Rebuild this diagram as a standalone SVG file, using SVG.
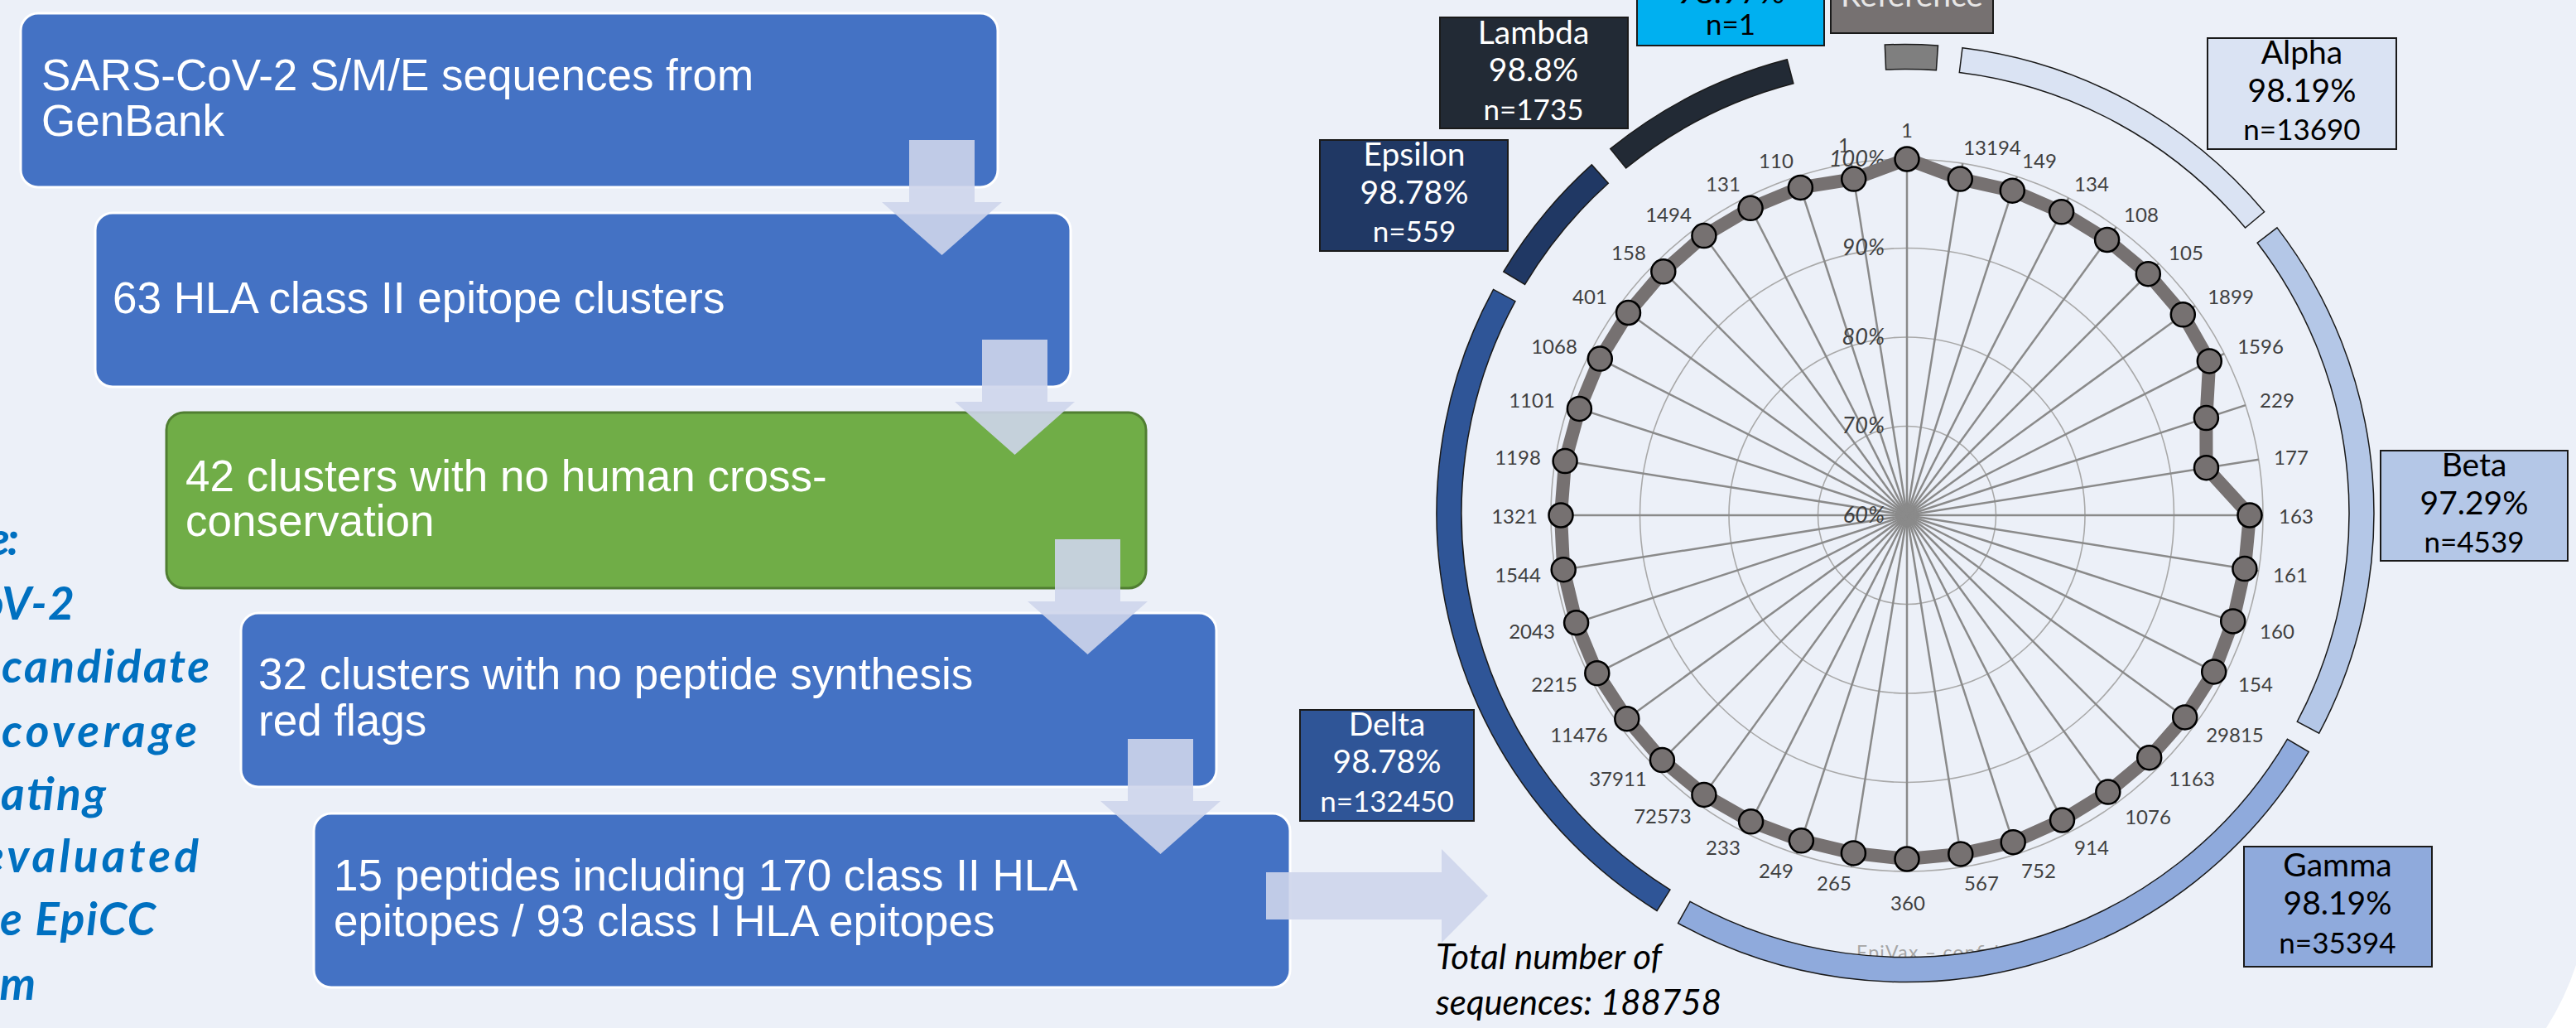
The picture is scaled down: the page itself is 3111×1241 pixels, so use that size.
<svg xmlns="http://www.w3.org/2000/svg" width="3111" height="1241" viewBox="0 0 3111 1241">
<style>
.bx{fill:#4472C4;stroke:#FFFFFF;stroke-width:3}
.gbx{fill:#70AD47;stroke:#507E32;stroke-width:3}
.bt{font-family:"Liberation Sans",Arial,sans-serif;font-size:53px;fill:#FFFFFF}
.arr{fill:#CED5EB;fill-opacity:0.9}
.side{font-family:Lato,"Open Sans",sans-serif;font-weight:bold;font-style:italic;font-size:55px;fill:#0070C0;text-anchor:end}
.spk{stroke:#8A8A8A;stroke-width:2.5}
.grd{fill:none;stroke:#A9A9A9;stroke-width:1.6}
.pct{font-family:Lato,"Open Sans",sans-serif;font-style:italic;font-size:27px;fill:#404040;text-anchor:end}
.cat{font-family:Lato,"Open Sans",sans-serif;font-size:24px;fill:#404040;text-anchor:middle}
.mk{fill:#767171;stroke:#000000;stroke-width:2.5}
.arc{stroke:#1A1A1A;stroke-width:1.5}
.vb{stroke:#1A1A1A;stroke-width:2}
.vn{font-family:Lato,"Open Sans",sans-serif;font-size:39px;text-anchor:middle}
.vs{font-family:Lato,"Open Sans",sans-serif;font-size:35px;text-anchor:middle}
.tot{font-family:Lato,"Open Sans",sans-serif;font-style:italic;font-size:42px;fill:#000000}
</style>
<rect x="0" y="0" width="3111" height="1241" fill="#ECF0F8"/>
<path d="M3111,1165 Q3098,1205 3075,1241 L3111,1241 Z" fill="#FFFFFF"/>

<g id="side-text">
<text class="side" x="23" y="670" textLength="38">e:</text>
<text class="side" x="90" y="748" textLength="114">oV-2</text>
<text class="side" x="253" y="824" textLength="251">candidate</text>
<text class="side" x="238" y="902" textLength="236">coverage</text>
<text class="side" x="128" y="978" textLength="127">ating</text>
<text class="side" x="240" y="1053" textLength="262">evaluated</text>
<text class="side" x="188" y="1129" textLength="188">e EpiCC</text>
<text class="side" x="43" y="1207" textLength="44">m</text>
</g>

<g id="box1">
<rect class="bx" x="25" y="16" width="1180" height="210" rx="21"/>
<text class="bt" x="50" y="109">SARS-CoV-2 S/M/E sequences from</text>
<text class="bt" x="50" y="164">GenBank</text>
</g>
<g id="box2">
<rect class="bx" x="115" y="257" width="1178" height="210" rx="21"/>
<text class="bt" x="136" y="378">63 HLA class II epitope clusters</text>
</g>
<g id="box3">
<rect class="gbx" x="201" y="498" width="1183" height="212" rx="21"/>
<text class="bt" x="224" y="593">42 clusters with no human cross-</text>
<text class="bt" x="224" y="647">conservation</text>
</g>
<g id="box4">
<rect class="bx" x="291" y="740" width="1178" height="210" rx="21"/>
<text class="bt" x="312" y="832">32 clusters with no peptide synthesis</text>
<text class="bt" x="312" y="888">red flags</text>
</g>
<g id="box5">
<rect class="bx" x="379" y="982" width="1179" height="210" rx="21"/>
<text class="bt" x="403" y="1075">15 peptides including 170 class II HLA</text>
<text class="bt" x="403" y="1130">epitopes / 93 class I HLA epitopes</text>
</g>

<g id="connectors">
<polygon class="arr" points="1098,169 1177,169 1177,244 1210,244 1137.5,308 1065,244 1098,244"/>
<polygon class="arr" points="1186,410 1265,410 1265,485 1298,485 1225.5,549 1153,485 1186,485"/>
<polygon class="arr" points="1274,651 1353,651 1353,726 1386,726 1313.5,790 1241,726 1274,726"/>
<polygon class="arr" points="1362,892 1441,892 1441,967 1474,967 1401.5,1031 1329,967 1362,967"/>
<polygon class="arr" points="1529,1053 1741,1053 1741,1025 1797,1081.5 1741,1138 1741,1110 1529,1110"/>
</g>

<g id="watermark">
<text x="2242" y="1158" font-family="Lato,'Open Sans',sans-serif" font-size="23" fill="#A6A6A6" textLength="234">EpiVax – confidential</text>
</g>

<g id="radar-grid">
<circle class="grd" cx="2303" cy="622" r="107.5"/>
<circle class="grd" cx="2303" cy="622" r="215"/>
<circle class="grd" cx="2303" cy="622" r="322.5"/>
<circle class="grd" cx="2303" cy="622" r="430"/>
<g transform="translate(2303,622)">
<line class="spk" x1="0" y1="0" x2="0" y2="-430"/>
<line class="spk" x1="0" y1="0" x2="0" y2="-430" transform="rotate(9)"/>
<line class="spk" x1="0" y1="0" x2="0" y2="-430" transform="rotate(18)"/>
<line class="spk" x1="0" y1="0" x2="0" y2="-430" transform="rotate(27)"/>
<line class="spk" x1="0" y1="0" x2="0" y2="-430" transform="rotate(36)"/>
<line class="spk" x1="0" y1="0" x2="0" y2="-430" transform="rotate(45)"/>
<line class="spk" x1="0" y1="0" x2="0" y2="-430" transform="rotate(54)"/>
<line class="spk" x1="0" y1="0" x2="0" y2="-430" transform="rotate(63)"/>
<line class="spk" x1="0" y1="0" x2="0" y2="-430" transform="rotate(72)"/>
<line class="spk" x1="0" y1="0" x2="0" y2="-430" transform="rotate(81)"/>
<line class="spk" x1="0" y1="0" x2="0" y2="-430" transform="rotate(90)"/>
<line class="spk" x1="0" y1="0" x2="0" y2="-430" transform="rotate(99)"/>
<line class="spk" x1="0" y1="0" x2="0" y2="-430" transform="rotate(108)"/>
<line class="spk" x1="0" y1="0" x2="0" y2="-430" transform="rotate(117)"/>
<line class="spk" x1="0" y1="0" x2="0" y2="-430" transform="rotate(126)"/>
<line class="spk" x1="0" y1="0" x2="0" y2="-430" transform="rotate(135)"/>
<line class="spk" x1="0" y1="0" x2="0" y2="-430" transform="rotate(144)"/>
<line class="spk" x1="0" y1="0" x2="0" y2="-430" transform="rotate(153)"/>
<line class="spk" x1="0" y1="0" x2="0" y2="-430" transform="rotate(162)"/>
<line class="spk" x1="0" y1="0" x2="0" y2="-430" transform="rotate(171)"/>
<line class="spk" x1="0" y1="0" x2="0" y2="-430" transform="rotate(180)"/>
<line class="spk" x1="0" y1="0" x2="0" y2="-430" transform="rotate(189)"/>
<line class="spk" x1="0" y1="0" x2="0" y2="-430" transform="rotate(198)"/>
<line class="spk" x1="0" y1="0" x2="0" y2="-430" transform="rotate(207)"/>
<line class="spk" x1="0" y1="0" x2="0" y2="-430" transform="rotate(216)"/>
<line class="spk" x1="0" y1="0" x2="0" y2="-430" transform="rotate(225)"/>
<line class="spk" x1="0" y1="0" x2="0" y2="-430" transform="rotate(234)"/>
<line class="spk" x1="0" y1="0" x2="0" y2="-430" transform="rotate(243)"/>
<line class="spk" x1="0" y1="0" x2="0" y2="-430" transform="rotate(252)"/>
<line class="spk" x1="0" y1="0" x2="0" y2="-430" transform="rotate(261)"/>
<line class="spk" x1="0" y1="0" x2="0" y2="-430" transform="rotate(270)"/>
<line class="spk" x1="0" y1="0" x2="0" y2="-430" transform="rotate(279)"/>
<line class="spk" x1="0" y1="0" x2="0" y2="-430" transform="rotate(288)"/>
<line class="spk" x1="0" y1="0" x2="0" y2="-430" transform="rotate(297)"/>
<line class="spk" x1="0" y1="0" x2="0" y2="-430" transform="rotate(306)"/>
<line class="spk" x1="0" y1="0" x2="0" y2="-430" transform="rotate(315)"/>
<line class="spk" x1="0" y1="0" x2="0" y2="-430" transform="rotate(324)"/>
<line class="spk" x1="0" y1="0" x2="0" y2="-430" transform="rotate(333)"/>
<line class="spk" x1="0" y1="0" x2="0" y2="-430" transform="rotate(342)"/>
<line class="spk" x1="0" y1="0" x2="0" y2="-430" transform="rotate(351)"/>
</g>
<text class="pct" x="2276" y="201">100%</text>
<text class="pct" x="2276" y="308">90%</text>
<text class="pct" x="2276" y="416">80%</text>
<text class="pct" x="2276" y="523">70%</text>
<text class="pct" x="2276" y="631">60%</text>
</g>

<g id="radar-labels">
<text class="cat" x="2303" y="166">1</text>
<text class="cat" x="2406" y="187">13194</text>
<text class="cat" x="2463" y="203">149</text>
<text class="cat" x="2526" y="231">134</text>
<text class="cat" x="2586" y="268">108</text>
<text class="cat" x="2640" y="314">105</text>
<text class="cat" x="2694" y="367">1899</text>
<text class="cat" x="2730" y="427">1596</text>
<text class="cat" x="2750" y="492">229</text>
<text class="cat" x="2767" y="561">177</text>
<text class="cat" x="2773" y="632">163</text>
<text class="cat" x="2766" y="703">161</text>
<text class="cat" x="2750" y="771">160</text>
<text class="cat" x="2724" y="835">154</text>
<text class="cat" x="2699" y="896">29815</text>
<text class="cat" x="2647" y="949">1163</text>
<text class="cat" x="2594" y="995">1076</text>
<text class="cat" x="2526" y="1032">914</text>
<text class="cat" x="2462" y="1060">752</text>
<text class="cat" x="2393" y="1075">567</text>
<text class="cat" x="2304" y="1099">360</text>
<text class="cat" x="2215" y="1075">265</text>
<text class="cat" x="2145" y="1060">249</text>
<text class="cat" x="2081" y="1032">233</text>
<text class="cat" x="2008" y="994">72573</text>
<text class="cat" x="1954" y="949">37911</text>
<text class="cat" x="1907" y="896">11476</text>
<text class="cat" x="1877" y="835">2215</text>
<text class="cat" x="1850" y="771">2043</text>
<text class="cat" x="1833" y="703">1544</text>
<text class="cat" x="1829" y="632">1321</text>
<text class="cat" x="1833" y="561">1198</text>
<text class="cat" x="1850" y="492">1101</text>
<text class="cat" x="1877" y="427">1068</text>
<text class="cat" x="1920" y="367">401</text>
<text class="cat" x="1967" y="314">158</text>
<text class="cat" x="2015" y="268">1494</text>
<text class="cat" x="2081" y="231">131</text>
<text class="cat" x="2145" y="203">110</text>
<text class="cat" x="2227" y="184">1</text>
</g>

<g id="radar-series">
<polygon fill="none" stroke="#767171" stroke-width="16" stroke-linejoin="round" points="2303,192 2367.3,216.1 2430.3,230.2 2489.6,255.8 2544.6,289.5 2594.3,330.7 2636.3,379.8 2668.3,435.9 2664.4,504.6 2664.5,564.7 2717,622 2710.9,686.6 2696.7,749.9 2673.7,810.9 2638.7,865.9 2595.7,914.7 2545.8,956.1 2490.5,990 2431.2,1016.7 2367.8,1030.9 2303,1037 2238.4,1029.9 2175.4,1014.8 2114.6,991.8 2057.9,959.4 2007.4,917.6 1964.8,867.7 1928.8,812.7 1903.6,751.8 1888.2,687.7 1885,622 1890.1,556.6 1907.4,493.4 1932.3,433.1 1966.5,377.5 2008.8,327.8 2057.9,284.6 2114.1,251.3 2174.4,226.4 2238.7,216.1"/>
<circle class="mk" cx="2303" cy="192" r="14.5"/>
<circle class="mk" cx="2367.3" cy="216.1" r="14.5"/>
<circle class="mk" cx="2430.3" cy="230.2" r="14.5"/>
<circle class="mk" cx="2489.6" cy="255.8" r="14.5"/>
<circle class="mk" cx="2544.6" cy="289.5" r="14.5"/>
<circle class="mk" cx="2594.3" cy="330.7" r="14.5"/>
<circle class="mk" cx="2636.3" cy="379.8" r="14.5"/>
<circle class="mk" cx="2668.3" cy="435.9" r="14.5"/>
<circle class="mk" cx="2664.4" cy="504.6" r="14.5"/>
<circle class="mk" cx="2664.5" cy="564.7" r="14.5"/>
<circle class="mk" cx="2717" cy="622" r="14.5"/>
<circle class="mk" cx="2710.9" cy="686.6" r="14.5"/>
<circle class="mk" cx="2696.7" cy="749.9" r="14.5"/>
<circle class="mk" cx="2673.7" cy="810.9" r="14.5"/>
<circle class="mk" cx="2638.7" cy="865.9" r="14.5"/>
<circle class="mk" cx="2595.7" cy="914.7" r="14.5"/>
<circle class="mk" cx="2545.8" cy="956.1" r="14.5"/>
<circle class="mk" cx="2490.5" cy="990" r="14.5"/>
<circle class="mk" cx="2431.2" cy="1016.7" r="14.5"/>
<circle class="mk" cx="2367.8" cy="1030.9" r="14.5"/>
<circle class="mk" cx="2303" cy="1037" r="14.5"/>
<circle class="mk" cx="2238.4" cy="1029.9" r="14.5"/>
<circle class="mk" cx="2175.4" cy="1014.8" r="14.5"/>
<circle class="mk" cx="2114.6" cy="991.8" r="14.5"/>
<circle class="mk" cx="2057.9" cy="959.4" r="14.5"/>
<circle class="mk" cx="2007.4" cy="917.6" r="14.5"/>
<circle class="mk" cx="1964.8" cy="867.7" r="14.5"/>
<circle class="mk" cx="1928.8" cy="812.7" r="14.5"/>
<circle class="mk" cx="1903.6" cy="751.8" r="14.5"/>
<circle class="mk" cx="1888.2" cy="687.7" r="14.5"/>
<circle class="mk" cx="1885" cy="622" r="14.5"/>
<circle class="mk" cx="1890.1" cy="556.6" r="14.5"/>
<circle class="mk" cx="1907.4" cy="493.4" r="14.5"/>
<circle class="mk" cx="1932.3" cy="433.1" r="14.5"/>
<circle class="mk" cx="1966.5" cy="377.5" r="14.5"/>
<circle class="mk" cx="2008.8" cy="327.8" r="14.5"/>
<circle class="mk" cx="2057.9" cy="284.6" r="14.5"/>
<circle class="mk" cx="2114.1" cy="251.3" r="14.5"/>
<circle class="mk" cx="2174.4" cy="226.4" r="14.5"/>
<circle class="mk" cx="2238.7" cy="216.1" r="14.5"/>
</g>

<g id="variant-ring">
<path class="arc" fill="#7F7F7F" d="M2276.3,54 A566,566 0 0 1 2340.5,54.9 L2338.4,84.8 A536,536 0 0 0 2277.6,84 Z"/>
<path class="arc" fill="#DAE3F3" d="M2370,57.7 A566,566 0 0 1 2734.6,255.7 L2711.6,275 A536,536 0 0 0 2366.3,87.5 Z"/>
<path class="arc" fill="#B4C7E7" d="M2750,274.9 A566,566 0 0 1 2800.7,885.2 L2774.3,871.1 A536,536 0 0 0 2726.2,293.2 Z"/>
<path class="arc" fill="#8FAADC" d="M2788.2,907.6 A566,566 0 0 1 2026.6,1114.5 L2041.1,1088.3 A536,536 0 0 0 2762.4,892.3 Z"/>
<path class="arc" fill="#2F5597" d="M2001.1,1099.5 A566,566 0 0 1 1803.6,349.4 L1830,363.7 A536,536 0 0 0 2017,1074.1 Z"/>
<path class="arc" fill="#203864" d="M1815.8,328 A566,566 0 0 1 1922.3,198.9 L1942.3,221.2 A536,536 0 0 0 1841.6,343.4 Z"/>
<path class="arc" fill="#222A35" d="M1944.8,179.6 A566,566 0 0 1 2158.3,71.8 L2165.9,100.8 A536,536 0 0 0 1963.7,202.9 Z"/>
</g>

<g id="label-mu">
<rect class="vb" x="1977" y="-10" width="226" height="65" fill="#00B0F0"/>
<text class="vn" x="2090" y="4" fill="#000000">98.97%</text>
<text class="vs" x="2090" y="42" fill="#000000">n=1</text>
</g>
<g id="label-reference">
<rect class="vb" x="2211" y="-10" width="196" height="50" fill="#767171"/>
<text class="vn" x="2309" y="8" fill="#E7E6E6">Reference</text>
</g>
<g id="label-lambda">
<rect class="vb" x="1739" y="21" width="227" height="134" fill="#222A35"/>
<text class="vn" x="1852" y="53" fill="#FFFFFF">Lambda</text>
<text class="vn" x="1852" y="98" fill="#FFFFFF">98.8%</text>
<text class="vs" x="1852" y="145" fill="#FFFFFF">n=1735</text>
</g>
<g id="label-epsilon">
<rect class="vb" x="1594" y="169" width="227" height="134" fill="#203864"/>
<text class="vn" x="1708" y="200" fill="#FFFFFF">Epsilon</text>
<text class="vn" x="1708" y="246" fill="#FFFFFF">98.78%</text>
<text class="vs" x="1708" y="292" fill="#FFFFFF">n=559</text>
</g>
<g id="label-alpha">
<rect class="vb" x="2666" y="46" width="228" height="134" fill="#DAE3F3"/>
<text class="vn" x="2780" y="77" fill="#000000">Alpha</text>
<text class="vn" x="2780" y="123" fill="#000000">98.19%</text>
<text class="vs" x="2780" y="169" fill="#000000">n=13690</text>
</g>
<g id="label-beta">
<rect class="vb" x="2875" y="544" width="226" height="133" fill="#B4C7E7"/>
<text class="vn" x="2988" y="575" fill="#000000">Beta</text>
<text class="vn" x="2988" y="621" fill="#000000">97.29%</text>
<text class="vs" x="2988" y="667" fill="#000000">n=4539</text>
</g>
<g id="label-gamma">
<rect class="vb" x="2710" y="1022" width="227" height="145" fill="#8FAADC"/>
<text class="vn" x="2823" y="1058" fill="#000000">Gamma</text>
<text class="vn" x="2823" y="1104" fill="#000000">98.19%</text>
<text class="vs" x="2823" y="1151" fill="#000000">n=35394</text>
</g>
<g id="label-delta">
<rect class="vb" x="1570" y="857" width="210" height="134" fill="#2F5597"/>
<text class="vn" x="1675" y="888" fill="#FFFFFF">Delta</text>
<text class="vn" x="1675" y="933" fill="#FFFFFF">98.78%</text>
<text class="vs" x="1675" y="980" fill="#FFFFFF">n=132450</text>
</g>

<g id="total">
<text class="tot" x="1734" y="1170">Total number of</text>
<text class="tot" x="1734" y="1225">sequences: 188758</text>
</g>
</svg>
